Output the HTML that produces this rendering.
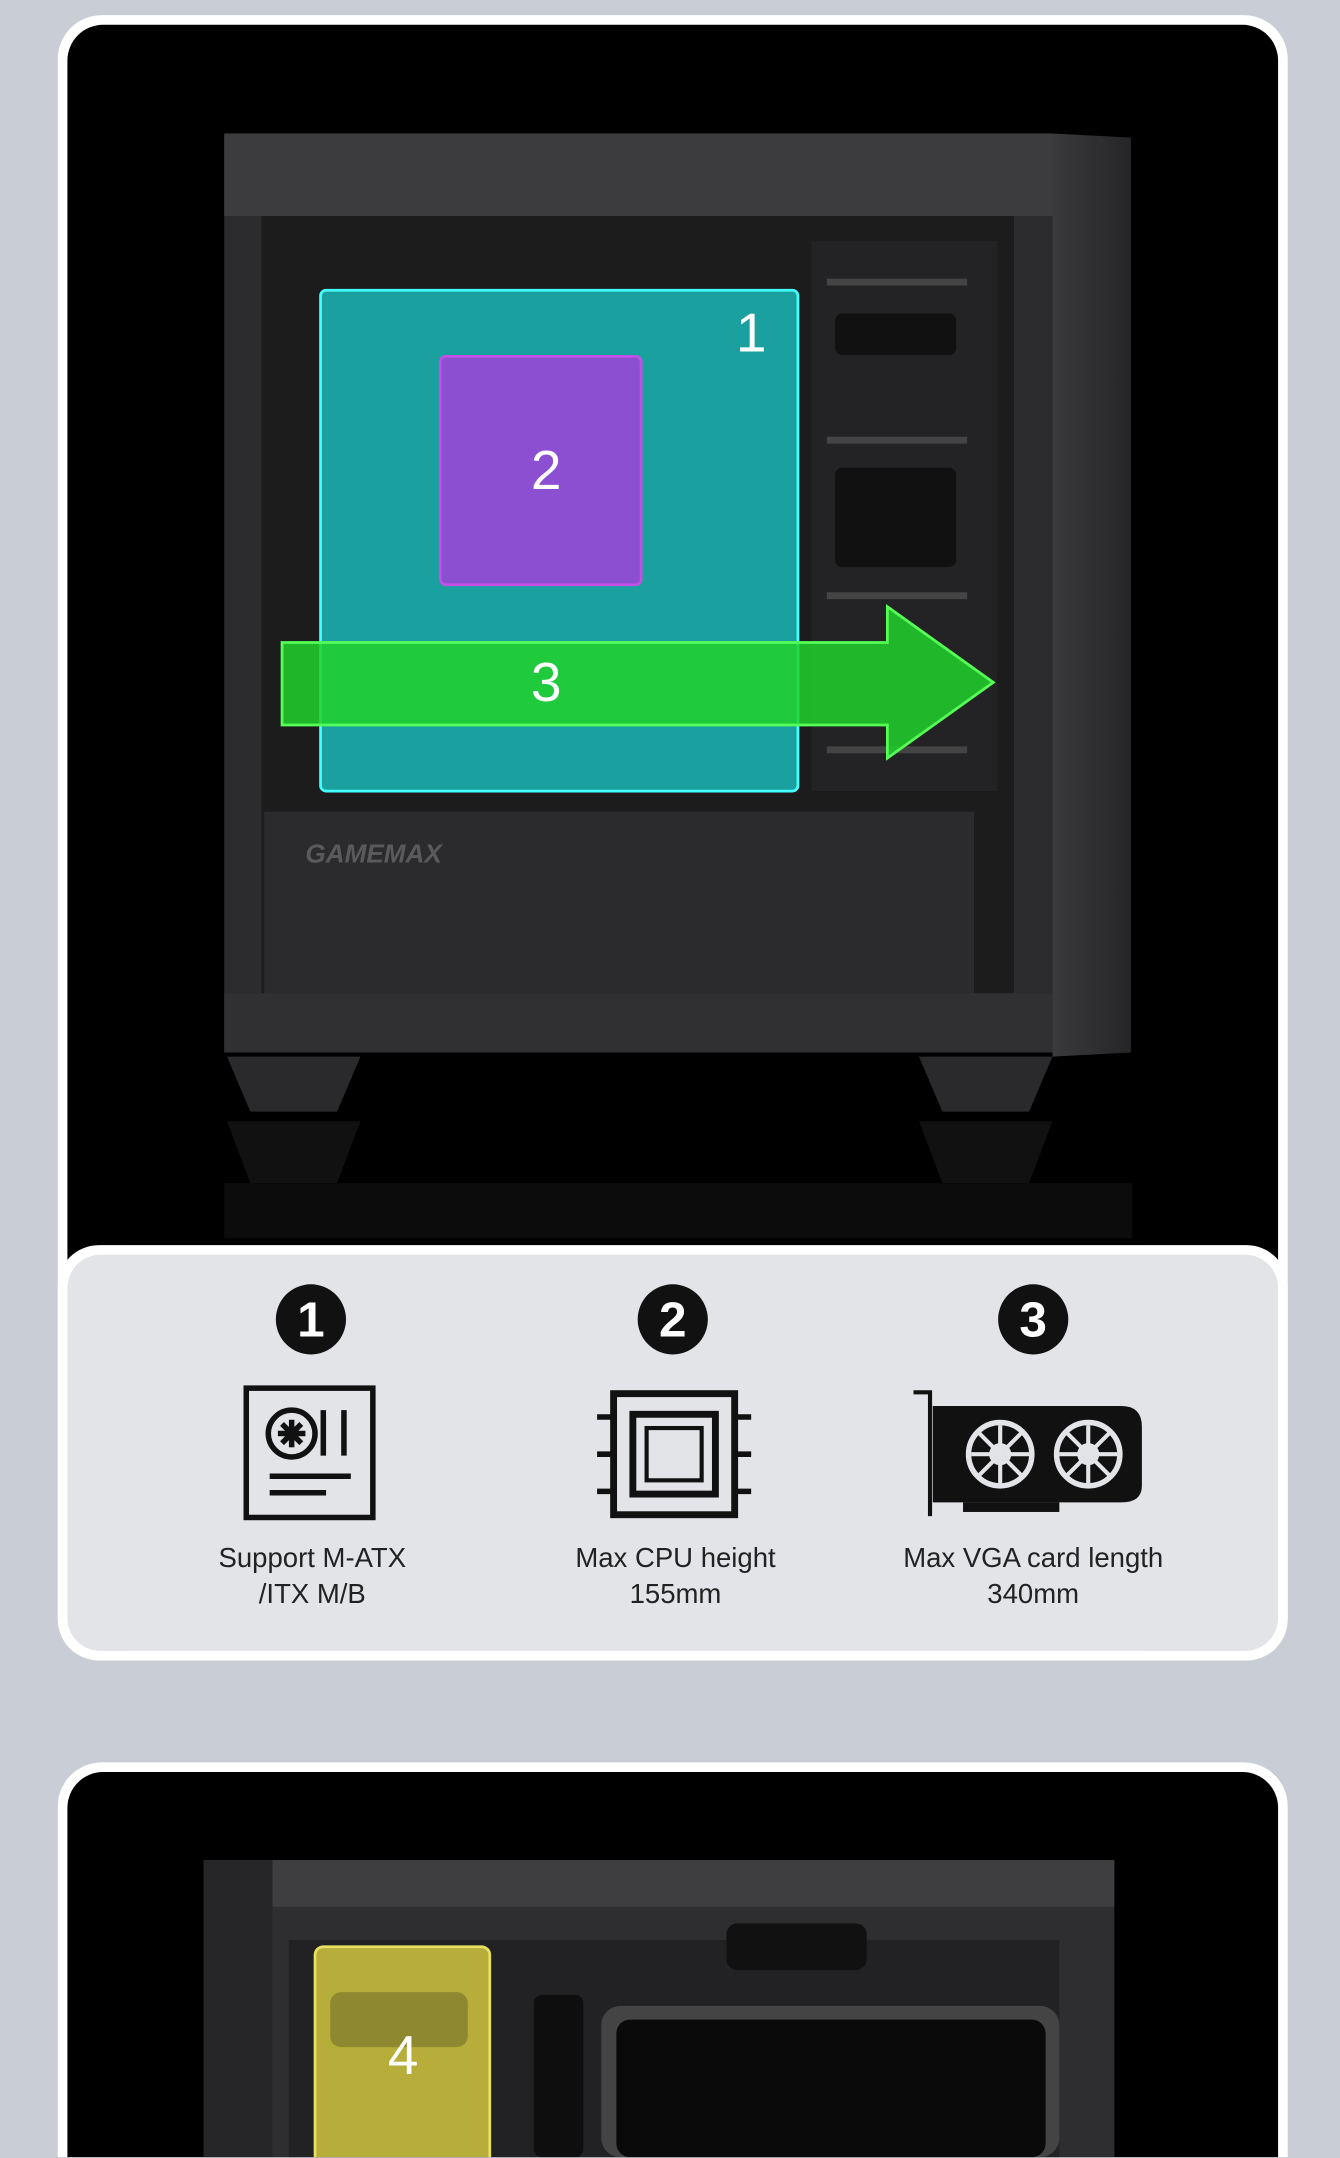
<!DOCTYPE html>
<html><head><meta charset="utf-8"><style>
html,body{margin:0;padding:0;background:#c8cdd6;overflow:hidden;width:1340px;height:2158px}
#w{position:relative;width:1340px;height:2158px;overflow:hidden;background:#c8cdd6}
#s{position:absolute;left:0;top:0;width:974px;height:1568px;overflow:hidden;transform:scale(1.37577);transform-origin:0 0;font-family:"Liberation Sans",sans-serif}
.a{position:absolute}
.num{color:#fff;font-size:40px;font-family:"Liberation Sans",sans-serif;position:absolute;transform:translate(-50%,-50%)}
.circ{position:absolute;width:51px;height:51px;border-radius:50%;background:#111;color:#fff;font-size:36px;font-weight:bold;text-align:center;line-height:51px;transform:translate(-50%,-50%)}
.lbl{position:absolute;width:260px;text-align:center;font-size:20px;line-height:26px;color:#222;transform:translateX(-50%)}
</style></head><body><div id="w"><div id="s">
<div class="a" style="left:42px;top:11px;width:894px;height:1196px;background:#fff;border-radius:32px"></div>
<div class="a" style="left:49px;top:18px;width:880px;height:900px;background:#000;border-radius:26px 26px 0 0"></div>
<svg class="a" style="left:0;top:0" width="974" height="910">
<defs><linearGradient id="g1" x1="0" x2="1"><stop offset="0" stop-color="#3a3a3c"/><stop offset="1" stop-color="#262628"/></linearGradient></defs>
<rect x="163" y="97" width="602" height="668" fill="#2c2c2e"/>
<rect x="163" y="97" width="602" height="60" fill="#3c3c3e"/>
<polygon points="765,97 822,100 822,765 765,768" fill="url(#g1)"/>
<rect x="190" y="157" width="547" height="565" fill="#1c1c1d"/>
<rect x="590" y="175" width="135" height="400" fill="#232325"/>
<g fill="#111"><rect x="607" y="228" width="88" height="30" rx="5"/><rect x="607" y="340" width="88" height="72" rx="5"/></g>
<g stroke="#444" stroke-width="5" fill="none"><line x1="601" y1="205" x2="703" y2="205"/><line x1="601" y1="320" x2="703" y2="320"/><line x1="601" y1="433" x2="703" y2="433"/><line x1="601" y1="545" x2="703" y2="545"/></g>
<rect x="192" y="590" width="516" height="132" fill="#2b2b2d"/>
<rect x="163" y="722" width="602" height="43" fill="#303032"/>
<polygon points="165,768 262,768 245,808 182,808" fill="#2a2a2c"/>
<polygon points="668,768 765,768 748,808 685,808" fill="#2a2a2c"/>
<polygon points="165,815 262,815 245,860 182,860" fill="#111"/>
<polygon points="668,815 765,815 748,860 685,860" fill="#111"/>
<rect x="163" y="860" width="660" height="40" fill="#0c0c0c"/>
<text x="222" y="627" font-family="Liberation Sans" font-size="19" font-weight="bold" font-style="italic" fill="#5a5a5c">GAMEMAX</text>
<rect x="233" y="211" width="347" height="364" rx="4" fill="#1bb7b7" fill-opacity="0.85" stroke="#4ff" stroke-width="2"/>
<rect x="320" y="259" width="146" height="166" rx="4" fill="#8d4fd2" stroke="#c050e6" stroke-width="2"/>
<polygon points="205,467 645,467 645,441 722,496 645,551 645,527 205,527" fill="#20d22c" fill-opacity="0.85" stroke="#55ff55" stroke-width="2"/>
</svg>
<div class="num" style="left:546px;top:243px">1</div>
<div class="num" style="left:397px;top:343px">2</div>
<div class="num" style="left:397px;top:497px">3</div>
<div class="a" style="left:42px;top:905px;width:894px;height:302px;background:#fff;border-radius:30px"></div>
<div class="a" style="left:49px;top:912px;width:880px;height:288px;background:#e3e4e8;border-radius:24px"></div>
<div class="circ" style="left:226px;top:959px">1</div>
<div class="circ" style="left:489px;top:959px">2</div>
<div class="circ" style="left:751px;top:959px">3</div>
<svg class="a" style="left:0;top:1000px" width="974" height="110">
<g fill="none" stroke="#111" stroke-width="4">
<rect x="179" y="9" width="92" height="94"/>
<circle cx="212" cy="42" r="17"/>
<line x1="235" y1="25" x2="235" y2="58"/><line x1="250" y1="25" x2="250" y2="58"/>
<line x1="196" y1="73" x2="255" y2="73"/><line x1="196" y1="85" x2="237" y2="85"/>
<rect x="446" y="13" width="88" height="88" stroke-width="5"/>
<rect x="460" y="28" width="60" height="58" stroke-width="5"/>
<rect x="470" y="38" width="40" height="38" stroke-width="3"/>
<line x1="434" y1="30" x2="446" y2="30"/><line x1="434" y1="57" x2="446" y2="57"/><line x1="434" y1="84" x2="446" y2="84"/>
<line x1="534" y1="30" x2="546" y2="30"/><line x1="534" y1="57" x2="546" y2="57"/><line x1="534" y1="84" x2="546" y2="84"/>
<polyline points="664,12 676,12 676,102" stroke-width="3"/>
</g>
<g stroke="#111" stroke-width="4"><line x1="202" y1="42" x2="222" y2="42"/><line x1="212" y1="32" x2="212" y2="52"/><line x1="205" y1="35" x2="219" y2="49"/><line x1="219" y1="35" x2="205" y2="49"/></g>
<path d="M678 22 H815 Q830 22 830 37 V80 Q830 92 815 92 H678 Z" fill="#111"/>
<rect x="700" y="92" width="70" height="7" fill="#111"/>
<g fill="none" stroke="#e3e4e8" stroke-width="4"><circle cx="727" cy="57" r="23"/><circle cx="791" cy="57" r="23"/><circle cx="727" cy="57" r="6"/><circle cx="791" cy="57" r="6"/></g>
<g stroke="#e3e4e8" stroke-width="3"><line x1="727" y1="36" x2="727" y2="78"/><line x1="706" y1="57" x2="748" y2="57"/><line x1="712" y1="42" x2="742" y2="72"/><line x1="742" y1="42" x2="712" y2="72"/>
<line x1="791" y1="36" x2="791" y2="78"/><line x1="770" y1="57" x2="812" y2="57"/><line x1="776" y1="42" x2="806" y2="72"/><line x1="806" y1="42" x2="776" y2="72"/></g>
</svg>
<div class="lbl" style="left:227px;top:1120px">Support M-ATX<br>/ITX M/B</div>
<div class="lbl" style="left:491px;top:1120px">Max CPU height<br>155mm</div>
<div class="lbl" style="left:751px;top:1120px">Max VGA card length<br>340mm</div>
<div class="a" style="left:42px;top:1281px;width:894px;height:287px;background:#fff;border-radius:32px 32px 0 0"></div>
<div class="a" style="left:49px;top:1288px;width:880px;height:280px;background:#000;border-radius:26px 26px 0 0"></div>
<svg class="a" style="left:0;top:1280px" width="974" height="288">
<rect x="148" y="72" width="662" height="216" fill="#2e2e30"/>
<rect x="198" y="72" width="612" height="34" fill="#3e3e40"/>
<rect x="148" y="72" width="50" height="216" fill="#262628"/>
<rect x="210" y="130" width="560" height="158" fill="#222224"/>
<rect x="528" y="118" width="102" height="34" rx="8" fill="#111"/>
<rect x="388" y="170" width="36" height="118" rx="6" fill="#0e0e0e"/>
<rect x="437" y="178" width="333" height="110" rx="14" fill="#444"/>
<rect x="448" y="188" width="312" height="100" rx="10" fill="#0a0a0a"/>
<rect x="229" y="135" width="127" height="160" rx="6" fill="#c6bd3e" fill-opacity="0.9" stroke="#e8e060" stroke-width="2"/>
<rect x="240" y="168" width="100" height="40" rx="8" fill="#8e8830"/>
</svg>
<div class="num" style="left:293px;top:1495px">4</div>
</div></div></body></html>
